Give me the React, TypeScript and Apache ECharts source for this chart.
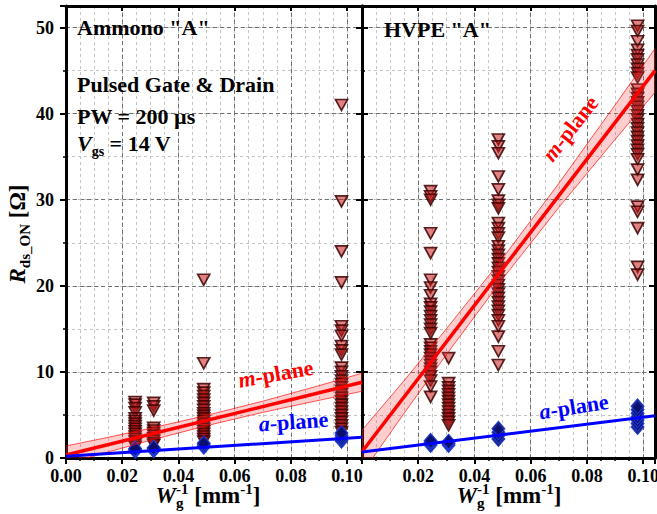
import React, { useEffect, useRef } from 'react';
import * as echarts from 'echarts';

const FONT = '"Liberation Serif", "Times New Roman", serif';

// ---------- Left panel: Ammono "A" ----------
const AMMONO_X = [0.0246, 0.0312, 0.049, 0.098];
const AMMONO_M_1 = [6.5, 6.2, 5.8, 5.3, 4.6, 4.3, 4.0, 3.7, 3.4, 3.1, 2.8, 2.5, 2.2, 1.9, 1.6, 1.3];
const AMMONO_M_2 = [6.4, 6.0, 5.5, 3.5, 3.2, 2.9, 2.6, 2.3, 2.0, 1.7, 1.5];
const AMMONO_M_3 = [20.7, 11.0, 8.0, 7.6, 7.2, 6.8, 6.4, 6.0, 5.6, 5.2, 4.9, 4.6, 4.3, 4.0, 3.7, 3.4, 3.1, 2.8, 2.5, 2.2, 1.9];
const AMMONO_M_4 = [41.0, 29.8, 24.0, 20.4, 15.3, 14.8, 14.2, 13.0, 12.5, 12.0, 10.5, 10.0, 9.5, 9.0, 8.6, 8.2, 7.8, 7.4, 7.0, 6.6, 6.2, 5.8, 5.4, 5.0, 4.6, 4.2, 3.8, 3.4, 3.0];
const AMMONO_A_1 = [0.8, 1.0, 1.1];
const AMMONO_A_2 = [0.9, 1.1, 1.2];
const AMMONO_A_3 = [1.3, 1.5, 1.7];
const AMMONO_A_4 = [2.0, 2.3, 2.6, 2.9];

const LEFT_XMAX = 0.1053;
const LEFT_FIT_X = [0, 0.1053];
const AMMONO_M_FIT = [0.35, 8.8];
const AMMONO_A_FIT = [0.2, 2.4];
const LEFT_BAND_X = [0, 0.015, 0.03, 0.05, 0.07, 0.09, 0.1053];
const AMMONO_BAND_LO = [-0.7, 0.7, 2.05, 3.75, 5.3, 6.7, 7.75];
const AMMONO_BAND_HI = [1.4, 2.4, 3.45, 4.95, 6.6, 8.4, 9.85];

// ---------- Right panel: HVPE "A" ----------
const HVPE_X = [0.0244, 0.0308, 0.0485, 0.098];
const HVPE_M_1 = [31.0, 30.4, 30.0, 26.1, 23.8, 20.7, 19.8, 18.9, 17.9, 17.5, 17.0, 16.5, 16.0, 15.5, 15.0, 14.5, 13.2, 12.8, 12.4, 12.0, 11.6, 11.2, 10.8, 10.4, 10.0, 9.5, 9.0, 8.3, 7.1];
const HVPE_M_2 = [11.6, 8.7, 8.2, 7.8, 7.4, 7.0, 6.6, 6.2, 5.8, 5.4, 5.0, 4.6, 4.2, 3.8];
const HVPE_M_3 = [37.0, 36.2, 35.4, 32.7, 31.2, 29.9, 29.4, 29.0, 27.3, 26.7, 26.1, 25.6, 24.6, 24.1, 23.6, 23.1, 22.6, 22.1, 21.6, 21.1, 20.6, 20.1, 19.6, 19.1, 18.6, 18.1, 17.6, 17.1, 16.6, 16.0, 15.3, 14.1, 12.4, 10.8];
const HVPE_M_4 = [50.2, 49.6, 48.4, 47.4, 46.8, 46.3, 45.7, 45.2, 44.7, 44.2, 42.8, 42.3, 41.8, 41.3, 40.8, 40.3, 39.8, 39.3, 38.8, 38.3, 37.8, 37.3, 36.8, 36.3, 35.8, 35.3, 34.7, 33.5, 32.3, 29.2, 28.6, 26.7, 22.2, 21.3];
const HVPE_A_1 = [1.5, 1.8, 2.0];
const HVPE_A_2 = [1.5, 1.7, 1.9];
const HVPE_A_3 = [2.2, 2.6, 3.0, 3.4];
const HVPE_A_4 = [3.6, 4.0, 4.4, 4.8, 5.2, 5.6, 6.0];

const RIGHT_XMAX = 0.1042;
const RIGHT_FIT_X = [0, 0.1042];
const HVPE_M_FIT = [0.73, 45.0];
const HVPE_A_FIT = [0.7, 4.9];
const RIGHT_BAND_X = [0, 0.015, 0.03, 0.05, 0.07, 0.09, 0.1042];
const HVPE_BAND_LO = [-1.77, 5.2, 12.0, 20.8, 29.1, 37.0, 42.45];
const HVPE_BAND_HI = [3.23, 9.0, 15.0, 23.2, 31.9, 41.0, 47.55];

const YMAX = 52.5;

const pts = (xs: number[], groups: number[][]) =>
  groups.flatMap((g, i) => g.map((v) => [xs[i], v]));
const zip = (xs: number[], ys: number[]) => xs.map((x, i) => [x, ys[i]]);

const isMult = (v: number, step: number) => Math.abs(v / step - Math.round(v / step)) < 1e-6;

function xAxes(grid: number, max: number, hideZero: boolean) {
  const minor = {
    gridIndex: grid, type: 'value', min: 0, max, interval: 0.005, position: 'bottom',
    axisLine: { show: false, onZero: false },
    axisTick: { show: true, inside: false, length: 3, lineStyle: { color: '#000', width: 1.5 } },
    axisLabel: { show: false },
    splitLine: { show: true, lineStyle: { color: '#c4c4c4', width: 1, type: [3, 3] } },
  };
  const main = {
    gridIndex: grid, type: 'value', min: 0, max, interval: 0.02, position: 'bottom',
    axisLine: { show: true, onZero: false, lineStyle: { color: '#000', width: 3 } },
    axisTick: { show: true, inside: false, length: 6, lineStyle: { color: '#000', width: 2 } },
    splitLine: { show: true, lineStyle: { color: '#707070', width: 1, type: [4, 3] } },
    axisLabel: {
      show: true, margin: 9, color: '#000', fontFamily: FONT, fontWeight: 'bold', fontSize: 18,
      formatter: (v: number) => {
        if (!isMult(v, 0.02)) return '';
        if (hideZero && Math.abs(v) < 1e-9) return '';
        return v.toFixed(2);
      },
    },
  };
  const top = {
    gridIndex: grid, type: 'value', min: 0, max, interval: 0.02, position: 'top',
    axisLine: { show: true, onZero: false, lineStyle: { color: '#000', width: 3 } },
    axisTick: { show: true, inside: true, length: 5, lineStyle: { color: '#000', width: 2 } },
    axisLabel: { show: false },
    splitLine: { show: false },
  };
  return [minor, main, top];
}

function yAxes(grid: number, labels: boolean) {
  const minor = {
    gridIndex: grid, type: 'value', min: 0, max: YMAX, interval: 5, position: 'left',
    axisLine: { show: false, onZero: false },
    axisTick: { show: true, inside: !labels, length: 3, lineStyle: { color: '#000', width: 1.5 } },
    axisLabel: { show: false },
    splitLine: { show: true, lineStyle: { color: '#c4c4c4', width: 1, type: [3, 3] } },
  };
  const main = {
    gridIndex: grid, type: 'value', min: 0, max: YMAX, interval: 10, position: 'left',
    axisLine: { show: true, onZero: false, lineStyle: { color: '#000', width: 3 } },
    axisTick: { show: true, inside: !labels, length: 6, lineStyle: { color: '#000', width: 2 } },
    splitLine: { show: true, lineStyle: { color: '#707070', width: 1, type: [4, 3] } },
    axisLabel: {
      show: labels, margin: 12, color: '#000', fontFamily: FONT, fontWeight: 'bold', fontSize: 18,
      formatter: (v: number) => (isMult(v, 10) ? String(Math.round(v)) : ''),
    },
  };
  const right = {
    gridIndex: grid, type: 'value', min: 0, max: YMAX, interval: 10, position: 'right',
    axisLine: { show: true, onZero: false, lineStyle: { color: '#000', width: 3 } },
    axisTick: { show: true, inside: true, length: 6, lineStyle: { color: '#000', width: 2 } },
    axisLabel: { show: false },
    splitLine: { show: false },
  };
  return [minor, main, right];
}

const TRI_STYLE = { color: 'rgba(200,28,28,0.55)', borderColor: 'rgba(60,0,0,0.85)', borderWidth: 1.7, opacity: 1 };
const DIA_STYLE = { color: 'rgba(10,16,110,0.9)', borderColor: '#1e3ce0', borderWidth: 1, opacity: 1 };

function panelSeries(xi: number, yi: number, xs: number[], mGroups: number[][], aGroups: number[][],
  fitX: number[], mFit: number[], aFit: number[], bandX: number[], lo: number[], hi: number[]) {
  return [
    {
      type: 'scatter', xAxisIndex: xi, yAxisIndex: yi, data: pts(xs, mGroups),
      symbol: 'triangle', symbolRotate: 180, symbolSize: [12, 11], itemStyle: TRI_STYLE, z: 2, silent: true,
    },
    {
      type: 'scatter', xAxisIndex: xi, yAxisIndex: yi, data: pts(xs, aGroups),
      symbol: 'diamond', symbolSize: [13, 15], itemStyle: DIA_STYLE, z: 3, silent: true,
    },
    {
      type: 'custom', xAxisIndex: xi, yAxisIndex: yi, data: [[bandX[0], lo[0]]], clip: true, z: 4, silent: true,
      renderItem: (_p: any, api: any) => {
        const points: number[][] = [];
        for (let i = 0; i < bandX.length; i++) points.push(api.coord([bandX[i], hi[i]]));
        for (let i = bandX.length - 1; i >= 0; i--) points.push(api.coord([bandX[i], lo[i]]));
        return {
          type: 'polygon', shape: { points },
          style: { fill: 'rgba(255,60,60,0.25)', stroke: 'rgba(255,0,0,0.65)', lineWidth: 1 },
        };
      },
    },
    {
      type: 'line', xAxisIndex: xi, yAxisIndex: yi, data: zip(fitX, mFit), symbol: 'none', z: 5, silent: true,
      lineStyle: { color: '#ff0000', width: 3.5 },
    },
    {
      type: 'line', xAxisIndex: xi, yAxisIndex: yi, data: zip(fitX, aFit), symbol: 'none', z: 5, silent: true,
      lineStyle: { color: '#0000ff', width: 3 },
    },
  ];
}

type Seg = { t: string; s: number; i?: boolean; dy?: number; over?: boolean };

function buildText(ctx: CanvasRenderingContext2D, segs: Seg[], color: string, center: boolean) {
  let x = 0;
  let prevStart = 0;
  const items: any[] = [];
  for (const sg of segs) {
    ctx.font = `${sg.i ? 'italic ' : ''}bold ${sg.s}px "Liberation Serif"`;
    const w = ctx.measureText(sg.t).width;
    const start = sg.over ? prevStart : x;
    items.push({
      type: 'text', x: start, y: (sg.dy || 0) - 0.3375 * sg.s, z: 20, silent: true,
      style: {
        text: sg.t, fontFamily: FONT, fontSize: sg.s, fontWeight: 'bold',
        fontStyle: sg.i ? 'italic' : 'normal', fill: color, align: 'left', verticalAlign: 'middle',
      },
    });
    prevStart = start;
    x = Math.max(x, start + w);
  }
  if (center) items.forEach((it) => (it.x -= x / 2));
  return items;
}

export default function App() {
  const ref = useRef<HTMLDivElement>(null);
  useEffect(() => {
    if (!ref.current) return;
    const chart = echarts.init(ref.current, undefined, { renderer: 'svg' });
    const ctx = document.createElement('canvas').getContext('2d') as CanvasRenderingContext2D;
    const deg = Math.PI / 180;
    const grp = (x: number, y: number, rot: number, segs: Seg[], color: string, center: boolean) => ({
      type: 'group', x, y, rotation: rot, children: buildText(ctx, segs, color, center),
    });
    const xTitle: Seg[] = [
      { t: 'W', s: 23, i: true },
      { t: '-1', s: 15, dy: -9 },
      { t: 'g', s: 15, dy: 5, over: true },
      { t: ' [mm', s: 23 },
      { t: '-1', s: 15, dy: -9 },
      { t: ']', s: 23 },
    ];
    const graphics = [
      grp(25, 234, Math.PI / 2, [
        { t: 'R', s: 23, i: true },
        { t: 'ds_ON', s: 15, dy: 5 },
        { t: ' [Ω]', s: 23 },
      ], '#000', true),
      grp(208, 503, 0, xTitle, '#000', true),
      grp(509, 503, 0, xTitle, '#000', true),
      grp(77, 35, 0, [{ t: 'Ammono "A"', s: 22 }], '#000', false),
      grp(77, 92, 0, [{ t: 'Pulsed Gate & Drain', s: 22 }], '#000', false),
      grp(77, 124, 0, [{ t: 'PW = 200 µs', s: 22 }], '#000', false),
      grp(77, 151, 0, [{ t: 'V', s: 22, i: true }, { t: 'gs', s: 14, dy: 5 }, { t: ' = 14 V', s: 22 }], '#000', false),
      grp(384, 37, 0, [{ t: 'HVPE "A"', s: 22 }], '#000', false),
      grp(277, 381, 10 * deg, [{ t: 'm', s: 22, i: true }, { t: '-plane', s: 22 }], '#ff0000', true),
      grp(294, 429, 4 * deg, [{ t: 'a', s: 22, i: true }, { t: '-plane', s: 22 }], '#0000ff', true),
      grp(576, 133, 52 * deg, [{ t: 'm', s: 22, i: true }, { t: '-plane', s: 22 }], '#ff0000', true),
      grp(575, 414, 9 * deg, [{ t: 'a', s: 22, i: true }, { t: '-plane', s: 22 }], '#0000ff', true),
    ];

    const option: any = {
      animation: false,
      backgroundColor: '#ffffff',
      grid: [
        { left: 66, top: 6, width: 296, height: 452, containLabel: false, outerBoundsMode: 'none' },
        { left: 362, top: 6, width: 293, height: 452, containLabel: false, outerBoundsMode: 'none' },
      ],
      xAxis: [...xAxes(0, LEFT_XMAX, false), ...xAxes(1, RIGHT_XMAX, true)],
      yAxis: [...yAxes(0, true), ...yAxes(1, false)],
      series: [
        ...panelSeries(1, 1, AMMONO_X, [AMMONO_M_1, AMMONO_M_2, AMMONO_M_3, AMMONO_M_4],
          [AMMONO_A_1, AMMONO_A_2, AMMONO_A_3, AMMONO_A_4], LEFT_FIT_X, AMMONO_M_FIT, AMMONO_A_FIT,
          LEFT_BAND_X, AMMONO_BAND_LO, AMMONO_BAND_HI),
        ...panelSeries(4, 4, HVPE_X, [HVPE_M_1, HVPE_M_2, HVPE_M_3, HVPE_M_4],
          [HVPE_A_1, HVPE_A_2, HVPE_A_3, HVPE_A_4], RIGHT_FIT_X, HVPE_M_FIT, HVPE_A_FIT,
          RIGHT_BAND_X, HVPE_BAND_LO, HVPE_BAND_HI),
      ],
      graphic: { elements: graphics },
    };
    chart.setOption(option);
    return () => chart.dispose();
  }, []);
  return (
    <div
      ref={ref}
      style={{ position: 'absolute', left: 0, top: 0, width: 657, height: 514, background: '#fff' }}
    />
  );
}
